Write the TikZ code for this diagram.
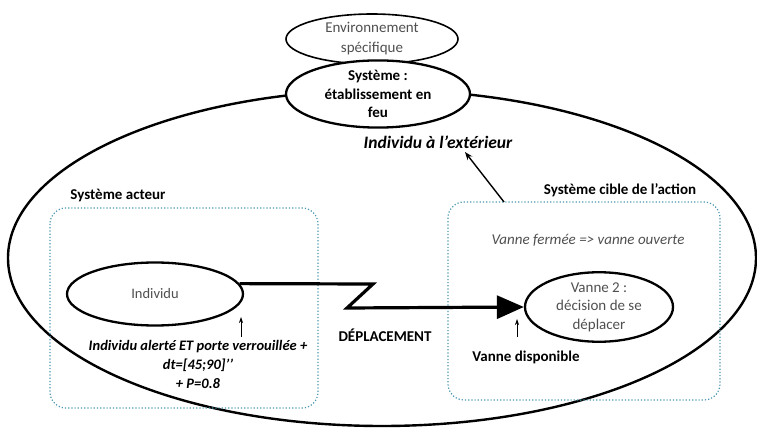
\documentclass[tikz,border=0pt]{standalone}
\usepackage{fontspec}
\setmainfont{Carlito}
\usetikzlibrary{arrows.meta,shapes.geometric}
\definecolor{txtgray}{RGB}{80,80,80}
\definecolor{dotblue}{RGB}{75,150,175}
\begin{document}
\begin{tikzpicture}[x=1pt,y=-1pt,
  oval/.style={ellipse,draw,line width=2.3pt,fill=white,inner sep=0pt},
  dotbox/.style={draw=dotblue,dotted,line width=1.2pt,rounded corners=16pt},
  graytxt/.style={text=txtgray,font=\fontsize{15}{18.5}\selectfont,align=center},
  boldtxt/.style={font=\fontsize{15}{18.5}\selectfont\bfseries,align=center},
  smallarrow/.style={-{Stealth[length=6pt,width=4pt]},line width=0.7pt}]
\useasboundingbox (0,0) rectangle (757,430);
% big system ellipse
\node[ellipse,draw,line width=2.4pt,minimum width=748pt,minimum height=336pt,inner sep=0pt] (big) at (382,258) {};
% dotted boxes
\draw[dotbox] (50,208) rectangle (318,408);
\draw[dotbox] (448,202) rectangle (720,400);
\coordinate (boxtop) at (504,202);
% top ellipses
\node[oval,line width=1.6pt,minimum width=172pt,minimum height=50pt,graytxt,font=\fontsize{15}{20}\selectfont] (env) at (372,39) {Environnement\\spécifique};
\node[oval,minimum width=184pt,minimum height=66pt,boldtxt] (sys) at (378,94) {Système :\\établissement en\\feu};
% labels
\node[font=\fontsize{17.5}{20}\selectfont\bfseries\itshape] (ext) at (438,142) {Individu à l’extérieur};
\coordinate (extarr) at (465,152);
\draw[-{Stealth[length=8pt,width=6pt]},line width=1.4pt] (boxtop) -- (extarr);
\node[boldtxt] (acteur) at (118,196) {Système acteur};
\node[boldtxt] (cible) at (620,190) {Système cible de l’action};
\node[graytxt,font=\fontsize{15}{18}\selectfont\itshape] (etat) at (588,240) {Vanne fermée => vanne ouverte};
% inner ellipses
\node[oval,minimum width=176pt,minimum height=63pt,graytxt,font=\fontsize{14.5}{16}\selectfont] (ind) at (155,294) {Individu};
\node[oval,minimum width=148pt,minimum height=60pt,graytxt] (van) at (599,307) {Vanne 2 :\\décision de se\\déplacer};
% connector
\coordinate (z1) at (373,284);
\coordinate (z2) at (347,308);
\draw[line width=3.2pt,-{Triangle[length=27pt,width=23pt]}] (ind.7) -- (z1) -- (z2) -- (van.west);
% small arrows
\coordinate (a1) at (241,337);
\coordinate (a1t) at (241,317);
\coordinate (a2) at (517,337);
\coordinate (a2t) at (517,319);
\draw[smallarrow] (a1) -- (a1t);
\draw[smallarrow] (a2) -- (a2t);
% bottom texts
\node[font=\fontsize{14.5}{19}\selectfont\bfseries\itshape,align=center] (cond) at (198,364) {Individu alerté ET porte verrouillée +\\dt=[45;90]’’\\+ P=0.8};
\node[boldtxt] (dep) at (385,335) {DÉPLACEMENT};
\node[boldtxt] (dispo) at (526,357) {Vanne disponible};
\end{tikzpicture}
\end{document}
